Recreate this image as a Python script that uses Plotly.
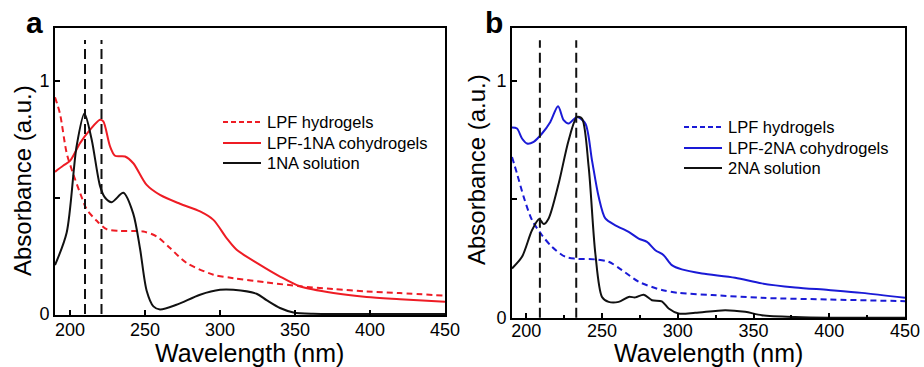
import plotly.graph_objects as go

# ---------------- Data ----------------
# Panel a
a_hyd_wl = [190, 193.3, 197.8, 202.2, 206.7, 211.1, 217.8, 224.4, 233.3, 248.9, 257.8, 266.7, 277.8, 295.6, 308.9, 331.1, 353.3, 375.6, 397.8, 420, 450]
a_hyd_ab = [0.93, 0.86, 0.69, 0.60, 0.52, 0.45, 0.40, 0.364, 0.357, 0.354, 0.333, 0.283, 0.219, 0.169, 0.154, 0.136, 0.119, 0.107, 0.097, 0.09, 0.079]

a_co_wl = [190, 195.6, 200, 206.7, 213.3, 220, 222.2, 226.7, 230, 236.7, 242.2, 251.1, 260, 273.3, 286.7, 295.6, 304.4, 311.1, 326.7, 340, 353.3, 375.6, 397.8, 420, 450]
a_co_ab = [0.61, 0.637, 0.657, 0.733, 0.79, 0.833, 0.826, 0.719, 0.679, 0.676, 0.647, 0.554, 0.511, 0.473, 0.44, 0.404, 0.326, 0.276, 0.211, 0.161, 0.119, 0.09, 0.073, 0.064, 0.053]

a_sol_wl = [190, 197.8, 204.4, 209.6, 214.4, 220, 223.3, 227.8, 235.6, 242.2, 246.7, 251.1, 255.6, 260, 271, 286.7, 300, 308.9, 324.4, 331, 340, 349, 362, 400, 450]
a_sol_ab = [0.21, 0.35, 0.72, 0.86, 0.75, 0.55, 0.50, 0.48, 0.52, 0.43, 0.28, 0.10, 0.033, 0.02, 0.04, 0.083, 0.104, 0.104, 0.087, 0.06, 0.026, 0.007, 0.001, 0.0, 0.0]

a_peaks = [210, 221]

# Panel b
b_hyd_wl = [190.6, 193.9, 198.3, 203.8, 210.4, 217, 225.8, 232.4, 245.6, 254.4, 263.2, 274.2, 289.5, 300.5, 322.5, 355.5, 399.5, 450]
b_hyd_ab = [0.678, 0.608, 0.51, 0.412, 0.348, 0.299, 0.257, 0.249, 0.246, 0.236, 0.201, 0.152, 0.117, 0.105, 0.096, 0.084, 0.077, 0.07]

b_co_wl = [190.6, 193.9, 197.2, 200.5, 204.9, 210.4, 215.9, 221, 224.7, 228, 233.5, 239, 243.4, 247.8, 252.2, 258.8, 267.6, 274.2, 279.7, 285.2, 290.7, 296.1, 302.7, 316, 337.9, 355.5, 377.5, 399.5, 421.5, 450]
b_co_ab = [0.802, 0.798, 0.756, 0.735, 0.742, 0.777, 0.826, 0.892, 0.833, 0.819, 0.847, 0.819, 0.664, 0.51, 0.419, 0.39, 0.362, 0.334, 0.32, 0.285, 0.264, 0.222, 0.204, 0.187, 0.169, 0.145, 0.128, 0.117, 0.105, 0.084]

b_sol_wl = [190.6, 197.2, 203.8, 208.6, 211.5, 214.8, 221.4, 228, 233.5, 236.8, 241.2, 245.6, 250, 254.4, 261, 267.6, 272, 277.5, 283, 289.5, 294, 300.5, 311.5, 331.3, 344.5, 355.5, 377.5, 400, 450]
b_sol_ab = [0.208, 0.257, 0.369, 0.416, 0.395, 0.419, 0.566, 0.749, 0.847, 0.84, 0.636, 0.271, 0.088, 0.067, 0.067, 0.088, 0.086, 0.097, 0.074, 0.069, 0.039, 0.018, 0.021, 0.032, 0.025, 0.011, 0.003, 0.0, 0.0]

b_peaks = [209, 233]

legend_a = ["LPF hydrogels", "LPF-1NA cohydrogels", "1NA solution"]
legend_b = ["LPF hydrogels", "LPF-2NA cohydrogels", "2NA solution"]
x_ticks = [200, 250, 300, 350, 400, 450]
y_ticks = [0, 0.5, 1]
y_ticktext = ["0", "", "1"]

# ---------------- Styling ----------------
W, H = 924, 367
RED = "#ee1c24"
BLUE = "#1a1ad6"
BLACK = "#111111"
FONT = "Liberation Sans, Arial, sans-serif"

def px_x(p):
    return p / W

def px_y(p):
    return 1 - p / H

fig = go.Figure()

def curve(x, y, color, dash, xa, ya, name):
    fig.add_trace(go.Scatter(
        x=x, y=y, mode="lines", name=name, showlegend=False,
        line=dict(color=color, width=2, dash=dash, shape="spline", smoothing=0.8),
        xaxis=xa, yaxis=ya, hoverinfo="skip"))

def vline(xv, ytop, xa, ya):
    fig.add_trace(go.Scatter(
        x=[xv, xv], y=[0, ytop], mode="lines", showlegend=False,
        line=dict(color=BLACK, width=2, dash="10px,5px"),
        xaxis=xa, yaxis=ya, hoverinfo="skip"))

# Panel a
curve(a_hyd_wl, a_hyd_ab, RED, "6px,4px", "x", "y", legend_a[0])
curve(a_co_wl, a_co_ab, RED, "solid", "x", "y", legend_a[1])
curve(a_sol_wl, a_sol_ab, BLACK, "solid", "x", "y", legend_a[2])
for p in a_peaks:
    vline(p, 1.175, "x", "y")

# Panel b
curve(b_hyd_wl, b_hyd_ab, BLUE, "6px,4px", "x2", "y2", legend_b[0])
curve(b_co_wl, b_co_ab, BLUE, "solid", "x2", "y2", legend_b[1])
curve(b_sol_wl, b_sol_ab, BLACK, "solid", "x2", "y2", legend_b[2])
for p in b_peaks:
    vline(p, 1.17, "x2", "y2")

axis_common = dict(
    showline=True, linecolor="black", linewidth=2, mirror=True, automargin=False,
    showgrid=False, zeroline=False, ticks="inside", ticklen=5, tickwidth=1.5,
    tickcolor="black", tickfont=dict(family=FONT, size=18, color="black"),
)

fig.update_layout(
    width=W, height=H, margin=dict(l=0, r=0, t=0, b=0, autoexpand=False),
    paper_bgcolor="white", plot_bgcolor="white",
    showlegend=False,
    xaxis=dict(domain=[px_x(55), px_x(445)], range=[190, 450], tickvals=x_ticks,
               ticklabelstandoff=-3, anchor="y", **axis_common),
    yaxis=dict(domain=[px_y(315), px_y(28)], range=[-0.004, 1.227], tickvals=y_ticks,
               ticktext=y_ticktext, anchor="x", **axis_common),
    xaxis2=dict(domain=[px_x(512), px_x(905)], range=[190.6, 450], tickvals=x_ticks,
                minor=dict(ticks="inside", ticklen=3, dtick=25, tick0=200, tickcolor="black"),
                ticklabelstandoff=-5, anchor="y2", **axis_common),
    yaxis2=dict(domain=[px_y(318), px_y(28)], range=[-0.001, 1.222], tickvals=y_ticks,
                ticktext=y_ticktext, anchor="x2", **axis_common),
)

# Manual legends
def legend(x0, ys, labels, colors, dashes):
    for yv, lab, col, d in zip(ys, labels, colors, dashes):
        fig.add_shape(type="line", xref="paper", yref="paper",
                      x0=px_x(x0), x1=px_x(x0 + 38), y0=px_y(yv), y1=px_y(yv),
                      line=dict(color=col, width=2, dash=d))
        fig.add_annotation(xref="paper", yref="paper", x=px_x(x0 + 42), y=px_y(yv),
                           text=lab, showarrow=False, xanchor="left", yanchor="middle",
                           font=dict(family=FONT, size=16.5, color="black"))

legend(223, [122, 143, 163], legend_a, [RED, RED, BLACK], ["5px,3px", "solid", "solid"])
legend(684, [127, 148, 168], legend_b, [BLUE, BLUE, BLACK], ["5px,3px", "solid", "solid"])

# Axis titles and panel letters
for xc in [249, 708]:
    fig.add_annotation(xref="paper", yref="paper", x=px_x(xc), y=px_y(353),
                       text="Wavelength (nm)", showarrow=False, xanchor="center", yanchor="middle",
                       font=dict(family=FONT, size=25, color="black"))
for xc, yc in [(22, 181), (477, 170)]:
    fig.add_annotation(xref="paper", yref="paper", x=px_x(xc), y=px_y(yc),
                       text="Absorbance (a.u.)", showarrow=False, textangle=-90,
                       xanchor="center", yanchor="middle",
                       font=dict(family=FONT, size=24, color="black"))
for xc, lab in [(34, "a"), (494, "b")]:
    fig.add_annotation(xref="paper", yref="paper", x=px_x(xc), y=px_y(22),
                       text="<b>%s</b>" % lab, showarrow=False, xanchor="center", yanchor="middle",
                       font=dict(family=FONT, size=30, color="black"))

fig.write_html("out.html")
